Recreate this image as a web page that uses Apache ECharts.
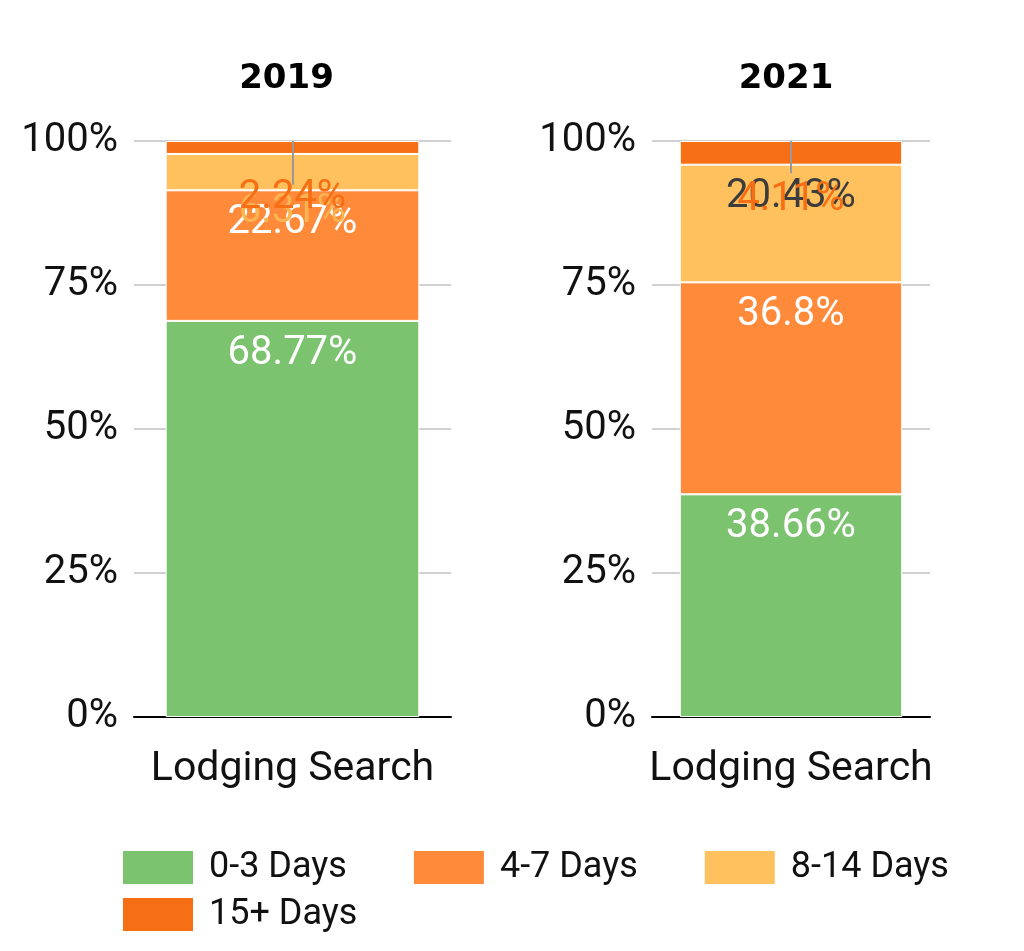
<!DOCTYPE html>
<html><head><meta charset="utf-8">
<script src="https://cdn.jsdelivr.net/npm/echarts@6/dist/echarts.min.js"></script>
<style>html,body{margin:0;padding:0;background:#fff}#c{width:1024px;height:951px}</style>
</head><body><div id="c"></div>
<script>
const categories = ['Lodging Search'];
const years = ['2019', '2021'];
const seriesNames = ['0-3 Days', '4-7 Days', '8-14 Days', '15+ Days'];
const values2019 = [68.77, 22.67, 6.31, 2.24];
const values2021 = [38.66, 36.8, 20.43, 4.11];
const yTicks = [0, 25, 50, 75, 100];
const colors = ['#7cc36f', '#ff8a3a', '#ffc15e', '#f76f14'];

const F = 'Roboto, "Noto Sans", sans-serif';
const chart = echarts.init(document.getElementById('c'));

const labelColors = {
  0: ['#ffffff', '#ffffff'],
  1: ['#ffffff', '#ffffff'],
  2: ['#f9b552', '#3c3c3c'],
  3: ['#f76f14', '#f76f14']
};
const labelDy = {0: [0, 0], 1: [0, 0], 2: [25, -1], 3: [24, 26]};
const leaderEnd = [92.4, 94.4];

function mkSeries(vals, gi) {
  return vals.map((v, si) => {
    const s = {
      name: seriesNames[si], type: 'bar', stack: 'y' + gi,
      xAxisIndex: gi, yAxisIndex: gi, barWidth: '80%',
      itemStyle: {color: colors[si], borderColor: '#fff', borderWidth: 1},
      data: [v],
      label: {
        show: true, position: 'insideTop', distance: 13,
        offset: [0, labelDy[si][gi]],
        formatter: p => p.value + '%',
        color: labelColors[si][gi], fontSize: 40, fontFamily: F
      }
    };
    if (si === 3) {
      s.markLine = {
        silent: true, symbol: 'none',
        lineStyle: {color: '#999', width: 2, type: 'solid'},
        label: {show: false},
        data: [[{coord: [categories[0], 100]}, {coord: [categories[0], leaderEnd[gi]]}]]
      };
    }
    return s;
  });
}

const grids = [
  {left: 134, width: 317, top: 141, height: 576},
  {left: 652, width: 278, top: 141, height: 576}
];
const titleCenters = [286.5, 786];

const option = {
  animation: false,
  color: colors,
  title: years.map((y, i) => ({
    text: y, left: titleCenters[i], top: 62, textAlign: 'center', padding: 0,
    textStyle: {fontSize: 34, fontWeight: 'bold', color: '#000', fontFamily: '"DejaVu Sans", sans-serif'}
  })),
  legend: [
    {data: seriesNames.slice(0, 3), left: 116, top: 844, itemWidth: 72, itemHeight: 35, itemGap: 65, icon: 'rect',
     textStyle: {fontSize: 36, color: '#111', fontFamily: F, padding: [0, 0, 0, 10]}},
    {data: seriesNames.slice(3), left: 116, top: 891, itemWidth: 72, itemHeight: 35, icon: 'rect',
     textStyle: {fontSize: 36, color: '#111', fontFamily: F, padding: [0, 0, 0, 10]}}
  ],
  grid: grids,
  xAxis: grids.map((g, i) => ({
    type: 'category', gridIndex: i, data: categories,
    axisLine: {lineStyle: {color: '#000', width: 2}}, axisTick: {show: false},
    axisLabel: {fontSize: 41, color: '#111', margin: 32, fontFamily: F}
  })),
  yAxis: grids.map((g, i) => ({
    type: 'value', gridIndex: i, min: yTicks[0], max: yTicks[yTicks.length - 1], interval: 25,
    axisLine: {show: false}, axisTick: {show: false},
    splitLine: {lineStyle: {color: '#d0d0d0', width: 2}},
    axisLabel: {fontSize: 40, color: '#111', margin: 16, padding: [6, 0, 0, 0], fontFamily: F, formatter: v => v + '%'}
  })),
  series: [...mkSeries(values2019, 0), ...mkSeries(values2021, 1)]
};
chart.setOption(option);
</script></body></html>
